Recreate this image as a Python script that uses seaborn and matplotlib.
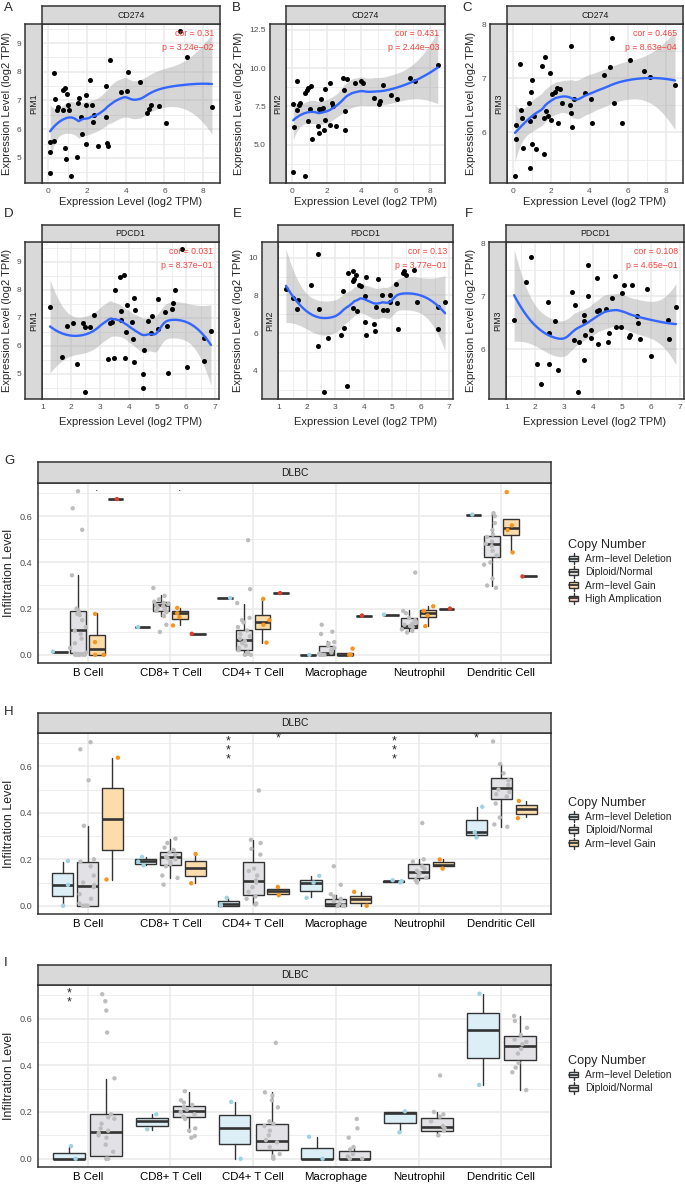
import numpy as np
import pandas as pd
import matplotlib
matplotlib.use("Agg")
import matplotlib.pyplot as plt
import seaborn as sns
from matplotlib.patches import Rectangle, Patch
from matplotlib.lines import Line2D
from matplotlib.legend_handler import HandlerBase
from matplotlib.ticker import MultipleLocator, FormatStrFormatter

# ---------------- data: scatter panels (A-F) ----------------
A_x = [6.82, 7.14, 3.18, 0.28, 4.13, 2.17, 4.74, 2.97, 0.85, 0.78, 0.95, 1.93, 3.75, 4.06, 0.36, 1.58,
       0.50, 0.43, 0.99, 0.75, 1.06, 1.55, 1.96, 2.24, 1.70, 2.38, 2.31, 3.00, 5.10, 5.19, 5.29, 5.71,
       6.08, 8.45, 0.09, 0.31, 0.09, 1.75, 0.85, 1.93, 2.55, 3.04, 3.06, 0.92, 1.49, 0.09, 1.18]
A_y = [9.41, 8.53, 8.40, 7.97, 7.99, 7.70, 7.66, 7.52, 7.44, 7.36, 7.23, 7.20, 7.29, 7.32, 7.05, 7.07,
       6.78, 6.68, 6.85, 6.68, 6.68, 6.91, 6.83, 6.83, 6.44, 6.50, 6.24, 6.44, 6.58, 6.69, 6.85, 6.82,
       6.23, 6.77, 5.56, 5.58, 5.22, 5.83, 5.34, 5.49, 5.43, 5.53, 5.41, 4.96, 5.02, 4.48, 4.38]
B_x = [8.44, 6.83, 7.12, 3.65, 3.99, 4.12, 2.93, 3.17, 0.26, 2.17, 1.08, 0.93, 0.86, 0.74, 1.93, 5.25,
       3.01, 1.65, 4.73, 6.05, 5.70, 5.10, 5.06, 0.06, 0.48, 0.41, 0.28, 1.76, 1.65, 1.54, 2.32, 2.39,
       3.05, 1.04, 0.91, 1.93, 0.09, 1.50, 2.21, 2.54, 1.54, 1.87, 3.05, 1.17, 0.06, 0.76]
B_y = [10.17, 9.37, 9.13, 9.00, 9.13, 9.02, 9.35, 9.28, 9.17, 9.02, 8.83, 8.67, 8.54, 8.39, 8.61, 8.91,
       8.57, 7.98, 8.02, 7.98, 8.22, 7.85, 7.63, 7.65, 7.72, 7.57, 7.24, 7.39, 7.33, 7.30, 7.70, 7.52,
       7.20, 7.30, 6.54, 6.59, 6.15, 6.24, 6.28, 6.22, 5.78, 5.93, 5.93, 5.39, 3.24, 2.98]
C_x = [5.17, 3.03, 6.09, 1.69, 0.34, 1.52, 5.09, 1.93, 6.83, 4.74, 7.14, 1.00, 8.47, 2.28, 2.45, 2.19,
       2.02, 0.95, 3.76, 3.17, 4.05, 0.83, 2.57, 5.29, 3.00, 1.72, 0.40, 1.09, 1.60, 1.81, 0.48, 0.91,
       1.97, 3.03, 0.17, 2.33, 4.12, 5.71, 3.07, 0.14, 0.53, 1.00, 1.22, 1.60, 0.90, 0.10]
C_y = [7.74, 7.59, 7.33, 7.39, 7.26, 7.22, 7.20, 7.09, 7.14, 7.06, 7.02, 6.96, 6.88, 6.82, 6.80, 6.74,
       6.71, 6.75, 6.72, 6.62, 6.62, 6.55, 6.54, 6.54, 6.50, 6.40, 6.42, 6.30, 6.26, 6.30, 6.26, 6.22,
       6.23, 6.36, 6.13, 6.18, 6.18, 6.17, 6.10, 5.88, 5.72, 5.79, 5.70, 5.61, 5.34, 5.20]
D_x = [5.87, 3.83, 3.70, 3.52, 5.62, 4.19, 5.03, 3.96, 5.55, 1.27, 4.21, 3.72, 5.50, 5.25, 2.80, 4.82,
       2.07, 1.87, 2.43, 2.49, 2.65, 3.35, 3.43, 3.72, 4.12, 4.68, 3.90, 4.14, 4.78, 5.03, 5.32, 6.63,
       6.86, 1.70, 2.20, 3.29, 3.50, 3.86, 4.17, 4.54, 6.63, 6.03, 5.36, 4.50, 4.50, 2.48]
D_y = [9.45, 8.54, 8.44, 7.98, 8.00, 7.72, 7.68, 7.47, 7.54, 7.38, 7.29, 7.25, 7.33, 7.22, 7.11, 7.06,
       6.82, 6.71, 6.80, 6.69, 6.67, 6.82, 6.84, 6.92, 6.85, 6.87, 6.48, 6.24, 6.46, 6.60, 6.72, 6.28,
       6.53, 5.60, 5.34, 5.52, 5.56, 5.55, 5.41, 5.85, 5.46, 5.24, 5.02, 4.98, 4.49, 4.36]
E_x = [2.40, 5.76, 5.43, 5.40, 5.49, 3.61, 3.44, 3.73, 4.10, 3.65, 3.62, 4.52, 2.16, 3.84, 3.89, 5.13,
       1.27, 3.26, 4.05, 1.53, 1.70, 4.66, 4.91, 5.89, 4.93, 5.17, 6.86, 1.65, 2.43, 3.64, 3.75, 4.42,
       4.68, 4.82, 6.60, 4.06, 4.37, 4.40, 3.32, 5.21, 6.60, 4.07, 3.20, 2.74, 2.41, 3.41, 2.60]
E_y = [10.19, 9.37, 9.31, 9.18, 9.07, 9.31, 9.18, 9.11, 9.00, 8.88, 8.79, 8.85, 8.58, 8.57, 8.49, 8.62,
       8.36, 8.23, 7.97, 7.86, 7.77, 8.00, 8.00, 7.64, 7.64, 7.60, 7.67, 7.26, 7.30, 7.34, 7.17, 7.39,
       7.23, 7.23, 7.41, 6.57, 6.50, 6.13, 6.28, 6.24, 6.20, 5.88, 5.88, 5.72, 5.34, 3.18, 2.89]
F_x = [1.87, 3.84, 4.77, 4.15, 1.69, 5.36, 5.07, 5.87, 3.28, 5.01, 3.81, 4.65, 2.43, 3.39, 6.86, 4.43,
       4.15, 4.21, 3.68, 5.50, 3.70, 2.69, 1.27, 5.55, 6.60, 4.80, 4.95, 3.92, 2.49, 4.55, 3.72, 5.29,
       5.25, 3.94, 3.33, 3.51, 4.50, 4.18, 5.62, 6.62, 6.01, 2.06, 2.47, 3.69, 2.80, 2.20, 3.49]
F_y = [7.74, 7.59, 7.39, 7.34, 7.27, 7.22, 7.21, 7.15, 7.09, 7.07, 7.01, 6.97, 6.89, 6.83, 6.81, 6.77,
       6.72, 6.74, 6.65, 6.64, 6.54, 6.54, 6.56, 6.50, 6.55, 6.43, 6.42, 6.36, 6.32, 6.31, 6.27, 6.27,
       6.24, 6.22, 6.18, 6.15, 6.14, 6.10, 6.19, 6.19, 5.88, 5.73, 5.72, 5.80, 5.61, 5.35, 5.20]

col_genes = ["CD274", "CD274", "CD274", "PDCD1", "PDCD1", "PDCD1"]
row_genes = ["PIM1", "PIM2", "PIM3", "PIM1", "PIM2", "PIM3"]
cor_labels = ["0.31", "0.431", "0.465", "0.031", "0.13", "0.108"]
p_labels = ["3.24e\u221202", "2.44e\u221203", "8.63e\u221204", "8.37e\u221201", "3.77e\u221201", "4.65e\u221201"]

# ---------------- data: infiltration box panels (G-I) ----------------
cell_types = ["B Cell", "CD8+ T Cell", "CD4+ T Cell", "Macrophage", "Neutrophil", "Dendritic Cell"]
cn_names = {"del": "Arm\u2212level Deletion", "dip": "Diploid/Normal",
            "gain": "Arm\u2212level Gain", "amp": "High Amplication"}

# box statistics per cell type: [lower whisker, Q1, median, Q3, upper whisker]
G_del_box = [[0.014] * 5, [0.12] * 5, [0.246] * 5, [0.0] * 5, [0.174] * 5, [0.607] * 5]
G_dip_box = [[0.003, 0.01, 0.106, 0.191, 0.346], [0.167, 0.191, 0.217, 0.229, 0.26],
             [0.003, 0.021, 0.064, 0.107, 0.221], [0.0, 0.0, 0.006, 0.036, 0.06],
             [0.103, 0.117, 0.124, 0.16, 0.193], [0.296, 0.424, 0.479, 0.514, 0.613]]
G_gain_box = [[0.0, 0.0, 0.027, 0.084, 0.179], [0.127, 0.153, 0.179, 0.189, 0.203],
              [0.053, 0.11, 0.141, 0.171, 0.241], [0.0, 0.0, 0.0, 0.006, 0.006],
              [0.124, 0.163, 0.179, 0.196, 0.21], [0.443, 0.52, 0.55, 0.589, 0.589]]
G_amp_box = [[0.674] * 5, [0.091] * 5, [0.267] * 5, [0.17] * 5, [0.2] * 5, [0.339] * 5]

G_del_pts = [[0.014], [0.12], [0.246], [0.0], [0.174], [0.607]]
G_dip_pts = [[0.708, 0.634, 0.541, 0.344, 0.20, 0.19, 0.177, 0.172, 0.15, 0.12, 0.104, 0.09, 0.07, 0.05,
              0.03, 0.01, 0.005, 0.0, 0.0, 0.0, 0.0, 0.0],
             [0.289, 0.255, 0.24, 0.23, 0.225, 0.22, 0.215, 0.21, 0.205, 0.2, 0.195, 0.19, 0.185, 0.17,
              0.167, 0.13, 0.099],
             [0.496, 0.284, 0.224, 0.16, 0.15, 0.14, 0.12, 0.105, 0.09, 0.08, 0.07, 0.06, 0.05, 0.04,
              0.03, 0.02, 0.01, 0.005, 0.0, 0.0],
             [0.13, 0.10, 0.09, 0.055, 0.05, 0.04, 0.03, 0.02, 0.01, 0.005, 0.0, 0.0, 0.0, 0.0],
             [0.356, 0.19, 0.18, 0.16, 0.15, 0.14, 0.135, 0.13, 0.125, 0.12, 0.11, 0.103, 0.097],
             [0.613, 0.60, 0.57, 0.54, 0.52, 0.51, 0.49, 0.48, 0.47, 0.45, 0.43, 0.40, 0.39, 0.33, 0.30, 0.29]]
G_gain_pts = [[0.177, 0.055, 0.0, 0.0], [0.203, 0.18, 0.163, 0.127], [0.242, 0.15, 0.13, 0.053],
              [0.027, 0.0, 0.0, 0.0], [0.21, 0.19, 0.17, 0.124], [0.704, 0.56, 0.54, 0.443]]
G_amp_pts = [[0.674], [0.091], [0.267], [0.17], [0.2], [0.339]]
G_sig = [["", "", "", "", "", ""], ["", "", "", "", "", ""],
         [".", ".", "", "", "", ""], ["", "", "", "", "", ""]]

H_del_box = [[0.0, 0.044, 0.091, 0.141, 0.19], [0.176, 0.18, 0.193, 0.201, 0.209],
             [0.0, 0.0, 0.006, 0.019, 0.033], [0.037, 0.063, 0.099, 0.113, 0.13],
             [0.103, 0.103, 0.106, 0.108, 0.108], [0.294, 0.304, 0.316, 0.37, 0.426]]
H_dip_box = [[0.0, 0.0, 0.086, 0.19, 0.344], [0.119, 0.176, 0.211, 0.23, 0.287],
             [0.007, 0.047, 0.107, 0.19, 0.283], [0.0, 0.0, 0.009, 0.027, 0.045],
             [0.109, 0.12, 0.144, 0.18, 0.201], [0.34, 0.459, 0.506, 0.549, 0.611]]
H_gain_box = [[0.113, 0.241, 0.374, 0.507, 0.637], [0.1, 0.127, 0.163, 0.191, 0.223],
              [0.044, 0.051, 0.064, 0.073, 0.084], [0.0, 0.013, 0.027, 0.041, 0.059],
              [0.161, 0.169, 0.176, 0.19, 0.201], [0.38, 0.394, 0.416, 0.434, 0.451]]
H_del_pts = [[0.193, 0.09, 0.0], [0.21, 0.19, 0.174], [0.034, 0.005, 0.0], [0.129, 0.1, 0.034],
             [0.11, 0.106, 0.1], [0.426, 0.316, 0.294]]
H_dip_pts = [[0.704, 0.673, 0.54, 0.344, 0.2, 0.19, 0.17, 0.13, 0.1, 0.09, 0.08, 0.05, 0.03, 0.01,
              0.0, 0.0, 0.0, 0.0],
             [0.289, 0.27, 0.25, 0.24, 0.23, 0.22, 0.21, 0.205, 0.2, 0.19, 0.18, 0.17, 0.13, 0.12, 0.091],
             [0.496, 0.284, 0.27, 0.245, 0.22, 0.16, 0.15, 0.13, 0.11, 0.1, 0.08, 0.06, 0.04, 0.03,
              0.01, 0.005],
             [0.17, 0.09, 0.05, 0.04, 0.03, 0.02, 0.01, 0.0, 0.0, 0.0],
             [0.356, 0.2, 0.19, 0.17, 0.16, 0.15, 0.14, 0.13, 0.12, 0.11, 0.1],
             [0.707, 0.61, 0.57, 0.54, 0.52, 0.5, 0.49, 0.48, 0.47, 0.44, 0.38, 0.35, 0.34]]
H_gain_pts = [[0.637, 0.113], [0.223, 0.097], [0.081, 0.046], [0.06, 0.0], [0.199, 0.16], [0.451, 0.377]]
H_sig = [["", "", "***", "", "***", "*"], ["", "", "", "", "", ""], ["", "", "*", "", "", ""]]

I_del_box = [[0.0, 0.0, 0.0, 0.024, 0.05], [0.123, 0.141, 0.163, 0.174, 0.191],
             [0.0, 0.063, 0.131, 0.187, 0.241], [0.0, 0.0, 0.0, 0.046, 0.091],
             [0.113, 0.153, 0.194, 0.199, 0.2], [0.316, 0.43, 0.549, 0.624, 0.703]]
I_dip_box = [[0.0, 0.011, 0.113, 0.191, 0.341], [0.113, 0.18, 0.206, 0.226, 0.287],
             [0.0, 0.037, 0.076, 0.149, 0.284], [0.0, 0.0, 0.0, 0.034, 0.051],
             [0.096, 0.117, 0.134, 0.174, 0.199], [0.294, 0.424, 0.481, 0.527, 0.61]]
I_del_pts = [[0.054, 0.0], [0.19, 0.126], [0.243, 0.0], [0.094, 0.0], [0.203, 0.113], [0.706, 0.316]]
I_dip_pts = [[0.704, 0.674, 0.634, 0.54, 0.344, 0.19, 0.177, 0.171, 0.15, 0.13, 0.12, 0.11, 0.1, 0.09,
              0.06, 0.03, 0.0, 0.0, 0.0],
             [0.289, 0.25, 0.24, 0.23, 0.22, 0.21, 0.2, 0.19, 0.18, 0.17, 0.13, 0.12, 0.097, 0.09],
             [0.496, 0.284, 0.27, 0.25, 0.22, 0.16, 0.15, 0.14, 0.12, 0.1, 0.08, 0.07, 0.05, 0.02, 0.01, 0.0],
             [0.17, 0.13, 0.09, 0.05, 0.04, 0.02, 0.01, 0.0, 0.0],
             [0.356, 0.2, 0.19, 0.18, 0.16, 0.14, 0.13, 0.12, 0.1],
             [0.611, 0.59, 0.56, 0.53, 0.51, 0.5, 0.49, 0.47, 0.45, 0.41, 0.39, 0.37, 0.294]]
I_sig = [["**", "", "", "", "", ""], ["", "", "", "", "", ""]]

# ---------------- styles ----------------
sns.set_style("white")
plt.rcParams["font.family"] = ["Liberation Sans", "DejaVu Sans"]

EDGE = "#333333"
STRIP = "#D9D9D9"
GRID = "#EBEBEB"
TICKC = "#4D4D4D"
box_fill = {"del": "#DCEFF7", "dip": "#E2E1E5", "gain": "#FDDCAB", "amp": "#F8C9BE"}
pt_color = {"del": "#9ED3E4", "dip": "#BDBDBD", "gain": "#F7941D", "amp": "#E23C2B"}

W, H = 685, 1184
PT = 72.0 / 100.0  # points per pixel
fig = plt.figure(figsize=(W / 100, H / 100), dpi=100)


def add_ax(l, t, r, b):
    return fig.add_axes([l / W, 1 - b / H, (r - l) / W, (b - t) / H])


def ftext(x, y, s, **kw):
    return fig.text(x / W, 1 - y / H, s, **kw)


def strip_ax(l, t, r, b, label, rotation=0, size=6.3):
    s = add_ax(l, t, r, b)
    s.set_facecolor(STRIP)
    s.set_xticks([])
    s.set_yticks([])
    for sp in s.spines.values():
        sp.set_color(EDGE)
        sp.set_linewidth(1.1)
    s.text(0.5, 0.5, label, transform=s.transAxes, ha="center", va="center",
           rotation=rotation, fontsize=size, color="#1A1A1A")
    s.set_zorder(5)
    return s


def loess_band(x, y, n_out=80, span=0.75):
    x = np.asarray(x, float)
    y = np.asarray(y, float)
    n = len(x)
    q = int(np.floor(n * span))

    def row(x0):
        d = np.abs(x - x0)
        h = np.sort(d)[q - 1]
        u = np.clip(d / h, 0, 1)
        w = (1 - u ** 3) ** 3
        X = np.column_stack([np.ones(n), x - x0, (x - x0) ** 2])
        XtW = X.T * w
        return np.linalg.solve(XtW @ X, XtW)[0]

    L = np.array([row(v) for v in x])
    resid = y - L @ y
    IL = np.eye(n) - L
    M = IL.T @ IL
    d1 = np.trace(M)
    d2 = np.trace(M @ M)
    sigma = np.sqrt(resid @ resid / d1)
    df = d1 ** 2 / d2
    tq = 1.959964 + 2.372 / df + 2.82 / df ** 2
    xg = np.linspace(x.min(), x.max(), n_out)
    Lg = np.array([row(v) for v in xg])
    fit = Lg @ y
    se = sigma * np.sqrt((Lg ** 2).sum(1))
    return xg, fit, fit - tq * se, fit + tq * se


def expand(lo, hi, f=0.05):
    r = hi - lo
    return lo - f * r, hi + f * r


# ---------------- scatter panels ----------------
scatter_data = [(A_x, A_y), (B_x, B_y), (C_x, C_y), (D_x, D_y), (E_x, E_y), (F_x, F_y)]
scatter_layout = [
    dict(rect=(42, 24, 220, 183), stop=6, sleft=25, ylab=7.5, xlab=202, letter=("A", 4, 2), xmaj=2, ymaj=1),
    dict(rect=(286, 24, 445, 183), stop=6, sleft=270, ylab=239, xlab=202, letter=("B", 232, 2), xmaj=2, ymaj=2.5),
    dict(rect=(507, 24, 683, 183), stop=6, sleft=490, ylab=471, xlab=202, letter=("C", 462, 2), xmaj=2, ymaj=1),
    dict(rect=(42, 242, 219, 399), stop=225, sleft=25, ylab=7.5, xlab=422, letter=("D", 4, 208), xmaj=1, ymaj=1),
    dict(rect=(278, 242, 453, 399), stop=225, sleft=262, ylab=238, xlab=422, letter=("E", 233, 208), xmaj=1, ymaj=2),
    dict(rect=(506, 242, 684, 399), stop=225, sleft=489, ylab=471, xlab=422, letter=("F", 465, 208), xmaj=1, ymaj=1),
]

for i, ((xs, ys), lay) in enumerate(zip(scatter_data, scatter_layout)):
    l, t, r, b = lay["rect"]
    ax = add_ax(l, t, r, b)
    xs = np.asarray(xs)
    ys = np.asarray(ys)
    xg, fit, lo, hi = loess_band(xs, ys)
    ax.fill_between(xg, lo, hi, color="#999999", alpha=0.4, linewidth=0, zorder=2)
    sns.scatterplot(x=xs, y=ys, ax=ax, color="black", s=13, linewidth=0, zorder=3)
    sns.lineplot(x=xg, y=fit, ax=ax, color="#3366FF", linewidth=1.7, sort=False, zorder=4)
    ax.set_xlim(*expand(xs.min(), xs.max()))
    ax.set_ylim(*expand(min(ys.min(), lo.min()), max(ys.max(), hi.max())))
    ax.xaxis.set_major_locator(MultipleLocator(lay["xmaj"]))
    ax.xaxis.set_minor_locator(MultipleLocator(lay["xmaj"] / 2))
    ax.yaxis.set_major_locator(MultipleLocator(lay["ymaj"]))
    ax.yaxis.set_minor_locator(MultipleLocator(lay["ymaj"] / 2))
    ax.yaxis.set_major_formatter(FormatStrFormatter("%d" if lay["ymaj"] == int(lay["ymaj"]) else "%.1f"))
    ax.xaxis.set_major_formatter(FormatStrFormatter("%d"))
    ax.set_axisbelow(True)
    ax.grid(which="major", color=GRID, linewidth=1.2)
    ax.grid(which="minor", color=GRID, linewidth=0.6)
    ax.set_xlabel("")
    ax.set_ylabel("")
    for sp in ax.spines.values():
        sp.set_color(EDGE)
        sp.set_linewidth(1.1)
    ax.tick_params(which="minor", length=0)
    ax.tick_params(axis="x", which="major", length=2.5 * PT * 1.2, width=0.8, color=EDGE,
                   labelsize=6, labelcolor=TICKC, pad=1.5)
    ax.tick_params(axis="y", which="major", length=(l - lay["sleft"] + 2.4) * PT, width=0.8, color=EDGE,
                   labelsize=6, labelcolor=TICKC, pad=1.2)
    # annotation
    pw, ph = r - l, b - t
    ax.text(1 - 6 / pw, 1 - 10 / ph, "cor = " + cor_labels[i], transform=ax.transAxes,
            ha="right", va="center", color="#F8413A", fontsize=6.3, zorder=6)
    ax.text(1 - 6 / pw, 1 - 23 / ph, "p = " + p_labels[i], transform=ax.transAxes,
            ha="right", va="center", color="#F8413A", fontsize=6.3, zorder=6)
    strip_ax(l, lay["stop"], r, t, col_genes[i])
    strip_ax(lay["sleft"], t, l, b, row_genes[i], rotation=90)
    ftext(lay["ylab"], (t + b) / 2, "Expression Level (log2 TPM)", rotation=90, ha="center",
          va="center", fontsize=8)
    ftext((l + r) / 2, lay["xlab"], "Expression Level (log2 TPM)", ha="center", va="center", fontsize=8)
    let, lx, ly = lay["letter"]
    ftext(lx, ly, let, ha="left", va="top", fontsize=9.5)


# ---------------- box panels ----------------
class BoxKey(HandlerBase):
    def create_artists(self, legend, orig_handle, xdescent, ydescent, width, height, fontsize, trans):
        fc = orig_handle.get_facecolor()
        cx = -xdescent + width / 2
        bw = width * 0.75
        bh = height * 0.5
        y0 = -ydescent + (height - bh) / 2
        rect = Rectangle((cx - bw / 2, y0), bw, bh, facecolor=fc, edgecolor=EDGE, lw=1.0, transform=trans)
        med = Line2D([cx - bw / 2, cx + bw / 2], [y0 + bh / 2] * 2, color=EDGE, lw=1.3, transform=trans)
        w1 = Line2D([cx, cx], [-ydescent, y0], color=EDGE, lw=1.0, transform=trans)
        w2 = Line2D([cx, cx], [y0 + bh, -ydescent + height], color=EDGE, lw=1.0, transform=trans)
        return [rect, med, w1, w2]


def box_panel(rect, head_top, keys, stats, points, sigs, letter, legend_top, seed):
    l, t, r, b = rect
    ax = add_ax(l, t, r, b)
    n = len(keys)
    sp = 0.9 / n
    bw = 0.85 * sp
    rng = np.random.default_rng(seed)
    rows = []
    for gi, k in enumerate(keys):
        off = (gi - (n - 1) / 2) * sp
        st = [dict(whislo=s[0], q1=s[1], med=s[2], q3=s[3], whishi=s[4], fliers=[]) for s in stats[gi]]
        ax.bxp(st, positions=np.arange(len(cell_types)) + off, widths=bw, patch_artist=True,
               showfliers=False, showcaps=False, manage_ticks=False,
               boxprops=dict(facecolor=box_fill[k], edgecolor=EDGE, linewidth=1.0),
               medianprops=dict(color=EDGE, linewidth=1.9, solid_capstyle="butt"),
               whiskerprops=dict(color=EDGE, linewidth=1.0), zorder=3)
        for ci, vals in enumerate(points[gi]):
            for v in vals:
                rows.append(dict(x=ci + off + rng.uniform(-0.1, 0.1), y=v, grp=k))
        for ci, s in enumerate(sigs[gi]):
            if not s:
                continue
            if len(s) > 1:
                ax.text(ci + off, 0.731, "\n".join(s), ha="center", va="top", fontsize=9,
                        linespacing=0.62, zorder=6)
            else:
                ax.text(ci + off, 0.72, s, ha="center", va="center", fontsize=9, zorder=6)
    df = pd.DataFrame(rows)
    sns.scatterplot(data=df, x="x", y="y", hue="grp", palette={k: pt_color[k] for k in keys},
                    s=10, linewidth=0, legend=False, ax=ax, zorder=4)
    ax.set_xlim(-0.6, len(cell_types) - 0.4)
    ax.set_ylim(-0.0354, 0.7434)
    ax.set_xticks(range(len(cell_types)))
    ax.set_xticklabels(cell_types)
    ax.set_yticks([0, 0.2, 0.4, 0.6])
    ax.set_yticklabels(["0.0", "0.2", "0.4", "0.6"])
    ax.yaxis.set_minor_locator(MultipleLocator(0.1))
    ax.set_axisbelow(True)
    ax.grid(which="major", color=GRID, linewidth=1.2)
    ax.yaxis.grid(True, which="minor", color=GRID, linewidth=0.6)
    ax.set_xlabel("")
    ax.set_ylabel("")
    for spn in ax.spines.values():
        spn.set_color(EDGE)
        spn.set_linewidth(1.1)
    ax.tick_params(which="minor", length=0)
    ax.tick_params(axis="x", which="major", length=3.2 * PT, width=0.9, color=EDGE,
                   labelsize=8.2, labelcolor="black", pad=1.5)
    ax.tick_params(axis="y", which="major", length=3.2 * PT, width=0.9, color=EDGE,
                   labelsize=6.6, labelcolor=TICKC, pad=1.5)
    strip_ax(l, head_top, r, t, "DLBC", size=7.4)
    ftext(9, (t + b) / 2, "Infiltration Level", rotation=90, ha="center", va="center", fontsize=9)
    let, lx, ly = letter
    ftext(lx, ly, let, ha="left", va="top", fontsize=9.5)
    handles = [Patch(facecolor=box_fill[k], edgecolor=EDGE) for k in keys]
    fig.legend(handles, [cn_names[k] for k in keys], title="Copy Number", loc="upper left",
               bbox_to_anchor=(568 / W, 1 - legend_top / H), frameon=False,
               handler_map={Patch: BoxKey()}, fontsize=7.4, title_fontsize=9.1, alignment="left",
               handlelength=1.1, handleheight=1.3, handletextpad=0.6, labelspacing=0.2,
               borderpad=0, borderaxespad=0)


box_panel((38, 483, 551, 663), 462, ["del", "dip", "gain", "amp"],
          [G_del_box, G_dip_box, G_gain_box, G_amp_box],
          [G_del_pts, G_dip_pts, G_gain_pts, G_amp_pts], G_sig, ("G", 4, 455), 539, 3)
box_panel((38, 733, 551, 914), 713, ["del", "dip", "gain"],
          [H_del_box, H_dip_box, H_gain_box],
          [H_del_pts, H_dip_pts, H_gain_pts], H_sig, ("H", 4, 706), 797, 5)
box_panel((38, 985, 551, 1167), 965, ["del", "dip"],
          [I_del_box, I_dip_box],
          [I_del_pts, I_dip_pts], I_sig, ("I", 4, 957), 1055, 7)

fig.savefig("out.png", dpi=100)
